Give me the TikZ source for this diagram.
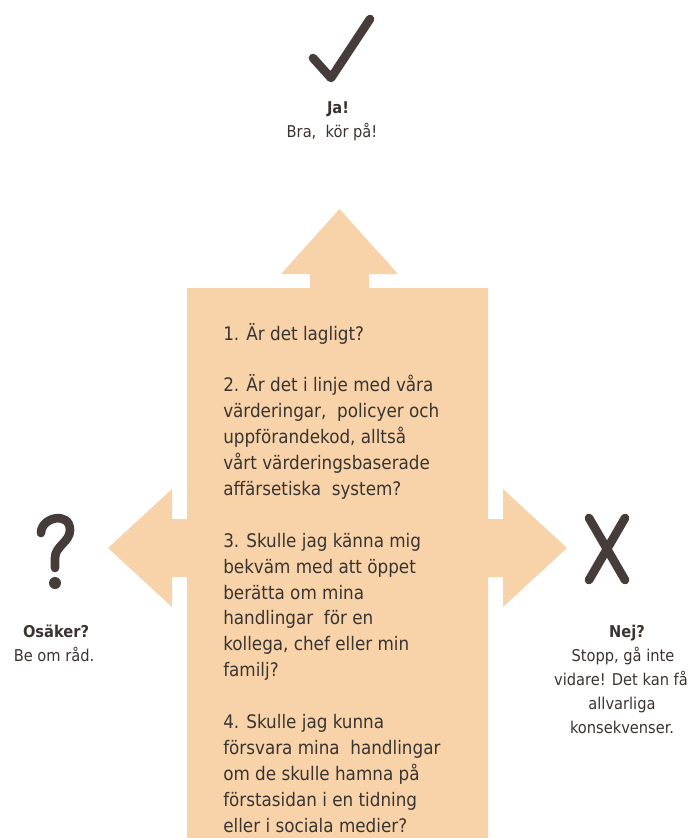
\documentclass[tikz,border=0pt]{standalone}
\usepackage{fontspec}
\setmainfont{DejaVu Sans Condensed}
\definecolor{peach}{HTML}{F8D3A9}
\definecolor{txt}{HTML}{3A3431}
\definecolor{markc}{HTML}{463D3B}
\tikzset{
  qline/.style={anchor=base west, inner sep=0pt, text=txt, font=\fontsize{14pt}{19.5pt}\selectfont},
  lbl/.style={anchor=base, inner sep=0pt, text=txt, font=\fontsize{12.2pt}{18pt}\selectfont},
  lblb/.style={lbl, font=\fontsize{12.2pt}{18pt}\selectfont\bfseries},
  markline/.style={draw=markc, line width=6.5pt, line cap=round, line join=round}
}
\begin{document}
\begin{tikzpicture}[x=0.75pt, y=-0.75pt]
\useasboundingbox (0,0) rectangle (688,838);
% cross-shaped arrow body
\fill[peach] (187,845) -- (187,577) -- (172,577) -- (172,607) -- (108,548)
  -- (172,489) -- (172,519) -- (187,519) -- (187,288)
  -- (310,288) -- (310,274) -- (281,274) -- (339.5,209) -- (398,274) -- (369,274) -- (369,288)
  -- (488,288) -- (488,519) -- (503,519) -- (503,489) -- (567,548) -- (503,607) -- (503,577)
  -- (488,577) -- (488,845) -- cycle;
% questions
\foreach \k/\t in {0/{1. Är det lagligt?},
  2/{2. Är det i linje med våra},
  3/{värderingar,\ \ policyer och},
  4/{uppförandekod, alltså},
  5/{vårt värderingsbaserade},
  6/{affärsetiska\ \ system?},
  8/{3. Skulle jag känna mig},
  9/{bekväm med att öppet},
  10/{berätta om mina},
  11/{handlingar\ \ för en},
  12/{kollega, chef eller min},
  13/{familj?},
  15/{4. Skulle jag kunna},
  16/{försvara mina\ \ handlingar},
  17/{om de skulle hamna på},
  18/{förstasidan i en tidning},
  19/{eller i sociala medier?}}
{ \node[qline] (q\k) at (223,{340+25.9*\k}) {\t}; }
% check mark
\draw[markline] (313,58) -- (331,78) -- (370,19);
\node[lblb] (ja) at (338,114) {Ja!};
\node[lbl] (ja2) at (332,138) {Bra,\ \ kör på!};
% question mark
\draw[markline] (41,533) .. controls (41,517) and (70,511) .. (70,530)
  .. controls (70,542) and (55,546) .. (55,558) -- (55,568);
\fill[markc] (55,583) circle (6);
\node[lblb] (os) at (56,637) {Osäker?};
\node[lbl] (os2) at (54,661) {Be om råd.};
% X mark
\draw[markline] (589,518) -- (625,580);
\draw[markline] (625,518) -- (589,580);
\node[lblb] (nej) at (627,637) {Nej?};
\node[lbl] (nej2) at (623,661) {Stopp, gå inte};
\node[lbl] (nej3) at (621,685) {vidare! Det kan få};
\node[lbl] (nej4) at (622,709) {allvarliga};
\node[lbl] (nej5) at (622,733) {konsekvenser.};
\end{tikzpicture}
\end{document}
